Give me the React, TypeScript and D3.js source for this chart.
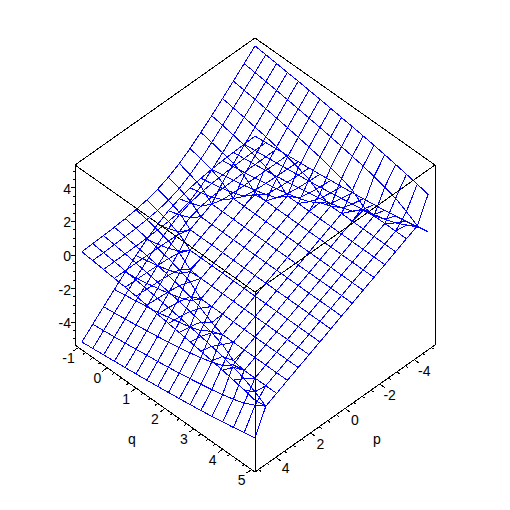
import React from "react";
import * as d3 from "d3";

const pValues = [-5, -4.375, -3.75, -3.125, -2.5, -1.875, -1.25, -0.625, 0, 0.625, 1.25, 1.875, 2.5, 3.125, 3.75, 4.375, 5];
const qValues = [-1, -0.625, -0.25, 0.125, 0.5, 0.875, 1.25, 1.625, 2, 2.375, 2.75, 3.125, 3.5, 3.875, 4.25, 4.625, 5];

// height of the upper sheet: one row per p value, one column per q value
const upperSheet = [
  [5.19, 5.12, 5.05, 4.97, 4.9, 4.82, 4.74, 4.65, 4.56, 4.47, 4.37, 4.27, 4.16, 4.04, 3.91, 3.77, 3.62],
  [4.59, 4.51, 4.43, 4.35, 4.26, 4.16, 4.07, 3.97, 3.86, 3.74, 3.61, 3.48, 3.32, 3.14, 2.92, 2.59, 2.19],
  [4.0, 3.91, 3.82, 3.72, 3.61, 3.5, 3.38, 3.25, 3.11, 2.94, 2.75, 2.5, 2.0, 1.88, 1.88, 1.88, 1.88],
  [3.42, 3.31, 3.2, 3.08, 2.96, 2.81, 2.65, 2.47, 2.23, 1.82, 1.56, 1.56, 1.56, 1.56, 1.56, 1.56, 1.56],
  [2.85, 2.73, 2.6, 2.45, 2.28, 2.08, 1.81, 1.25, 1.25, 1.25, 1.25, 1.25, 1.25, 1.25, 1.25, 1.25, 1.25],
  [2.31, 2.16, 2.0, 1.81, 1.55, 1.0, 0.94, 0.94, 0.94, 0.94, 0.94, 0.94, 0.94, 0.94, 0.94, 0.94, 0.94],
  [1.8, 1.63, 1.43, 1.14, 0.63, 0.63, 0.63, 0.63, 0.63, 0.63, 0.63, 0.63, 0.63, 0.63, 0.63, 0.63, 0.63],
  [1.36, 1.16, 0.9, 0.31, 0.31, 0.31, 0.31, 0.31, 0.31, 0.31, 0.31, 0.31, 0.31, 0.31, 0.31, 0.31, 0.31],
  [1.0, 0.79, 0.5, 0, 0, 0, 0, 0, 0, 0, 0, 0, 0, 0, 0, 0, 0],
  [0.74, 0.54, 0.28, -0.31, -0.31, -0.31, -0.31, -0.31, -0.31, -0.31, -0.31, -0.31, -0.31, -0.31, -0.31, -0.31, -0.31],
  [0.55, 0.38, 0.18, -0.11, -0.63, -0.63, -0.63, -0.63, -0.63, -0.63, -0.63, -0.63, -0.63, -0.63, -0.63, -0.63, -0.63],
  [0.43, 0.29, 0.13, -0.07, -0.32, -0.87, -0.94, -0.94, -0.94, -0.94, -0.94, -0.94, -0.94, -0.94, -0.94, -0.94, -0.94],
  [0.35, 0.23, 0.1, -0.05, -0.22, -0.42, -0.69, -1.25, -1.25, -1.25, -1.25, -1.25, -1.25, -1.25, -1.25, -1.25, -1.25],
  [0.29, 0.19, 0.08, -0.04, -0.17, -0.31, -0.47, -0.66, -0.9, -1.3, -1.56, -1.56, -1.56, -1.56, -1.56, -1.56, -1.56],
  [0.25, 0.16, 0.07, -0.03, -0.14, -0.25, -0.37, -0.5, -0.64, -0.81, -1.0, -1.25, -1.75, -1.88, -1.88, -1.88, -1.88],
  [0.22, 0.14, 0.06, -0.03, -0.12, -0.21, -0.31, -0.41, -0.52, -0.64, -0.76, -0.9, -1.05, -1.23, -1.46, -1.79, -2.19],
  [0.19, 0.12, 0.05, -0.03, -0.1, -0.18, -0.26, -0.35, -0.44, -0.53, -0.63, -0.73, -0.84, -0.96, -1.09, -1.22, -1.38],
];

// height of the lower sheet, same rows and columns
const lowerSheet = [
  [-0.19, -0.12, -0.05, 0.03, 0.1, 0.18, 0.26, 0.35, 0.44, 0.53, 0.63, 0.73, 0.84, 0.96, 1.09, 1.22, 1.38],
  [-0.22, -0.14, -0.06, 0.03, 0.12, 0.21, 0.31, 0.41, 0.52, 0.64, 0.76, 0.9, 1.05, 1.23, 1.46, 1.79, 2.19],
  [-0.25, -0.16, -0.07, 0.03, 0.14, 0.25, 0.37, 0.5, 0.64, 0.81, 1.0, 1.25, 1.75, 1.88, 1.88, 1.88, 1.88],
  [-0.29, -0.19, -0.08, 0.04, 0.17, 0.31, 0.47, 0.66, 0.9, 1.3, 1.56, 1.56, 1.56, 1.56, 1.56, 1.56, 1.56],
  [-0.35, -0.23, -0.1, 0.05, 0.22, 0.42, 0.69, 1.25, 1.25, 1.25, 1.25, 1.25, 1.25, 1.25, 1.25, 1.25, 1.25],
  [-0.43, -0.29, -0.13, 0.07, 0.32, 0.87, 0.94, 0.94, 0.94, 0.94, 0.94, 0.94, 0.94, 0.94, 0.94, 0.94, 0.94],
  [-0.55, -0.38, -0.18, 0.11, 0.63, 0.63, 0.63, 0.63, 0.63, 0.63, 0.63, 0.63, 0.63, 0.63, 0.63, 0.63, 0.63],
  [-0.74, -0.54, -0.28, 0.31, 0.31, 0.31, 0.31, 0.31, 0.31, 0.31, 0.31, 0.31, 0.31, 0.31, 0.31, 0.31, 0.31],
  [-1.0, -0.79, -0.5, 0, 0, 0, 0, 0, 0, 0, 0, 0, 0, 0, 0, 0, 0],
  [-1.36, -1.16, -0.9, -0.31, -0.31, -0.31, -0.31, -0.31, -0.31, -0.31, -0.31, -0.31, -0.31, -0.31, -0.31, -0.31, -0.31],
  [-1.8, -1.63, -1.43, -1.14, -0.63, -0.63, -0.63, -0.63, -0.63, -0.63, -0.63, -0.63, -0.63, -0.63, -0.63, -0.63, -0.63],
  [-2.31, -2.16, -2.0, -1.81, -1.55, -1.0, -0.94, -0.94, -0.94, -0.94, -0.94, -0.94, -0.94, -0.94, -0.94, -0.94, -0.94],
  [-2.85, -2.73, -2.6, -2.45, -2.28, -2.08, -1.81, -1.25, -1.25, -1.25, -1.25, -1.25, -1.25, -1.25, -1.25, -1.25, -1.25],
  [-3.42, -3.31, -3.2, -3.08, -2.96, -2.81, -2.65, -2.47, -2.23, -1.82, -1.56, -1.56, -1.56, -1.56, -1.56, -1.56, -1.56],
  [-4.0, -3.91, -3.82, -3.72, -3.61, -3.5, -3.38, -3.25, -3.11, -2.94, -2.75, -2.5, -2.0, -1.88, -1.88, -1.88, -1.88],
  [-4.59, -4.51, -4.43, -4.35, -4.26, -4.16, -4.07, -3.97, -3.86, -3.74, -3.61, -3.48, -3.32, -3.14, -2.92, -2.59, -2.19],
  [-5.19, -5.12, -5.05, -4.97, -4.9, -4.82, -4.74, -4.65, -4.56, -4.47, -4.37, -4.27, -4.16, -4.04, -3.91, -3.77, -3.62],
];

const pTicks = [-4, -2, 0, 2, 4];
const qTicks = [-1, 0, 1, 2, 3, 4, 5];
const zTicks = [-4, -2, 0, 2, 4];
const pMinor = d3.range(-5, 5.01, 0.5);
const qMinor = d3.range(-1, 5.01, 0.25);
const zMinor = d3.range(-5, 5.01, 0.5);

const pDomain = [5.2, -5.2];
const qDomain = [-1.12, 5.12];
const zDomain = [-5.37, 5.37];

const left = 75;
const base = 345;
const halfWidth = 180;
const skew = 127;

const uScale = d3.scaleLinear().domain(qDomain).range([0, 1]);
const wScale = d3.scaleLinear().domain(pDomain).range([0, 1]);
const zScale = d3.scaleLinear().domain(zDomain).range([0, 180]);

type Pt = [number, number];
const project = (p: number, q: number, z: number): Pt => {
  const u = uScale(q);
  const w = wScale(p);
  return [left + halfWidth * (u + w), base + skew * (u - w) - zScale(z)];
};

const line = d3.line<Pt>();
const BLUE = "#0000ff";
const FONT = "'Liberation Sans', Arial, sans-serif";

function Sheet({ table }: { table: number[][] }) {
  const paths: string[] = [];
  pValues.forEach((p, i) => {
    paths.push(line(qValues.map((q, j) => project(p, q, table[i][j])))!);
  });
  qValues.forEach((q, j) => {
    paths.push(line(pValues.map((p, i) => project(p, q, table[i][j])))!);
  });
  return (
    <g fill="none" stroke={BLUE} strokeWidth={1}>
      {paths.map((d, k) => (
        <path key={k} d={d} />
      ))}
    </g>
  );
}

export default function App() {
  const [pA, pB] = pDomain;
  const [qA, qB] = qDomain;
  const [zA, zB] = zDomain;
  const frame: Pt[][] = [
    [project(pA, qA, zB), project(pB, qA, zB), project(pB, qB, zB), project(pA, qB, zB), project(pA, qA, zB)],
    [project(pA, qA, zA), project(pA, qB, zA), project(pB, qB, zA)],
    [project(pA, qA, zA), project(pA, qA, zB)],
    [project(pA, qB, zA), project(pA, qB, zB)],
    [project(pB, qB, zA), project(pB, qB, zB)],
  ];
  const tick = (a: Pt, dx: number, dy: number, k: string) => (
    <line key={k} x1={a[0]} y1={a[1]} x2={a[0] + dx} y2={a[1] + dy} stroke="#000" />
  );
  return (
    <svg
      width={510}
      height={510}
      viewBox="0 0 510 510"
      style={{ position: "absolute", left: 0, top: 0, background: "#fff" }}
      shapeRendering="crispEdges"
    >
      <Sheet table={upperSheet} />
      <Sheet table={lowerSheet} />
      <g fill="none" stroke="#000" strokeWidth={1}>
        {frame.map((f, k) => (
          <path key={k} d={line(f)!} />
        ))}
      </g>
      <g>
        {pMinor.map((p) => {
          const major = pTicks.includes(p);
          return tick(project(p, qB, zA), major ? 5 : 2.5, major ? 3.5 : 1.8, `p${p}`);
        })}
        {qMinor.map((q) => {
          const major = qTicks.includes(q);
          return tick(project(pA, q, zA), major ? -5 : -2.5, major ? 3.5 : 1.8, `q${q}`);
        })}
        {zMinor.map((z) => {
          const major = zTicks.includes(z);
          return tick(project(pA, qA, z), major ? -4 : -2, 0, `z${z}`);
        })}
      </g>
      <g fontFamily={FONT} fontSize={14} fill="#000" shapeRendering="auto">
        {zTicks.map((z) => {
          const [x, y] = project(pA, qA, z);
          return (
            <text key={z} x={x - 4} y={y + 1} textAnchor="end" dominantBaseline="central">
              {z}
            </text>
          );
        })}
        {qTicks.map((q) => {
          const [x, y] = project(pA, q, zA);
          return (
            <text key={q} x={x - 10} y={y + 10.5} textAnchor="middle" dominantBaseline="central">
              {q}
            </text>
          );
        })}
        {pTicks.map((p) => {
          const [x, y] = project(p, qB, zA);
          return (
            <text key={p} x={x + 10} y={y + 11} textAnchor="middle" dominantBaseline="central">
              {p}
            </text>
          );
        })}
        <text x={project(pA, 2, zA)[0] - 33} y={project(pA, 2, zA)[1] + 30.5} textAnchor="middle" dominantBaseline="central">
          q
        </text>
        <text x={project(0, qB, zA)[0] + 32} y={project(0, qB, zA)[1] + 30.5} textAnchor="middle" dominantBaseline="central">
          p
        </text>
      </g>
    </svg>
  );
}
